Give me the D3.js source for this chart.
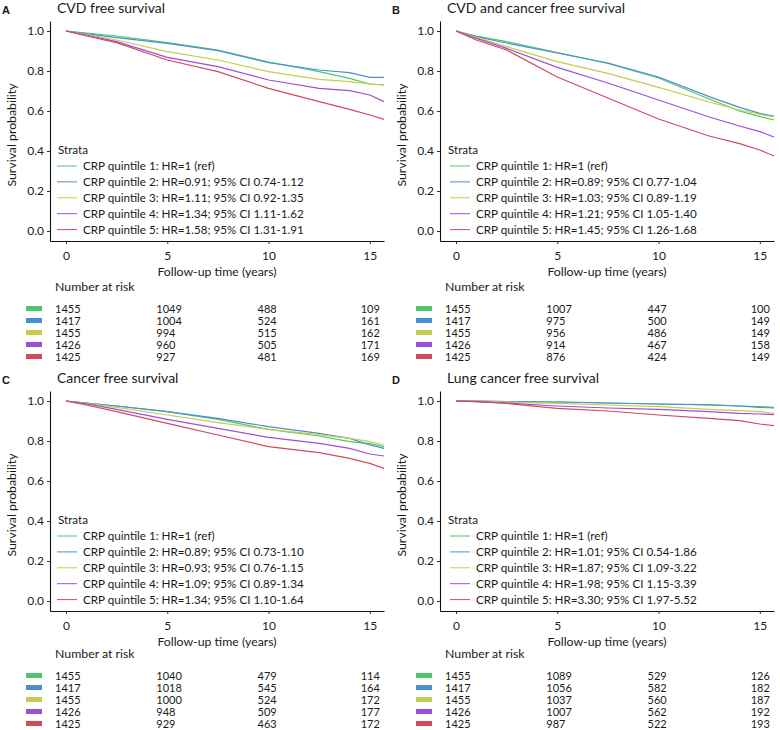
<!DOCTYPE html>
<html><head><meta charset="utf-8">
<script src="https://cdn.jsdelivr.net/npm/d3@7"></script>
<style>
body{margin:0;background:#fff}
svg{display:block}
text{font-family:Lato,"Open Sans",sans-serif;fill:#1a1a1a}
</style>
</head><body>
<svg id="chart" width="780" height="730"></svg>
<script>
// ---------- data ----------
const times = [0, 1, 2.5, 5, 7.5, 10, 12.5, 14, 15, 15.7];
const strataColors = ["#4fc66d", "#4a8fcf", "#c7cc4e", "#9c50d8", "#d04b5d"];
const panelLetters = ["A", "B", "C", "D"];
const panelTitles = ["CVD free survival", "CVD and cancer free survival", "Cancer free survival", "Lung cancer free survival"];
const yTicks = [0, 0.2, 0.4, 0.6, 0.8, 1.0];
const xTicks = [0, 5, 10, 15];
const riskTimes = [0, 5, 10, 15];

// survival probabilities per stratum (quintile 1..5) at `times`
const cvdSurv = [
  [1, 0.990, 0.975, 0.942, 0.905, 0.845, 0.797, 0.763, 0.735, 0.730],
  [1, 0.987, 0.967, 0.938, 0.902, 0.842, 0.805, 0.792, 0.768, 0.768],
  [1, 0.983, 0.955, 0.897, 0.855, 0.797, 0.758, 0.747, 0.735, 0.730],
  [1, 0.980, 0.947, 0.868, 0.822, 0.755, 0.713, 0.702, 0.680, 0.647],
  [1, 0.975, 0.942, 0.855, 0.797, 0.713, 0.647, 0.608, 0.580, 0.558]
];
const cvdCancerSurv = [
  [1, 0.975, 0.947, 0.892, 0.838, 0.765, 0.660, 0.600, 0.572, 0.555],
  [1, 0.972, 0.940, 0.890, 0.840, 0.770, 0.672, 0.618, 0.588, 0.575],
  [1, 0.968, 0.922, 0.847, 0.788, 0.718, 0.645, 0.605, 0.583, 0.570],
  [1, 0.963, 0.913, 0.818, 0.740, 0.655, 0.570, 0.525, 0.497, 0.470],
  [1, 0.955, 0.905, 0.770, 0.665, 0.560, 0.475, 0.437, 0.405, 0.375]
];
const cancerSurv = [
  [1, 0.990, 0.975, 0.947, 0.908, 0.858, 0.825, 0.797, 0.787, 0.772],
  [1, 0.990, 0.975, 0.947, 0.913, 0.872, 0.838, 0.813, 0.780, 0.763],
  [1, 0.988, 0.968, 0.930, 0.892, 0.858, 0.832, 0.813, 0.797, 0.780],
  [1, 0.986, 0.958, 0.908, 0.863, 0.818, 0.788, 0.763, 0.735, 0.725],
  [1, 0.980, 0.947, 0.888, 0.830, 0.772, 0.742, 0.713, 0.688, 0.663]
];
const lungSurv = [
  [1, 0.999, 0.997, 0.995, 0.990, 0.985, 0.982, 0.975, 0.972, 0.968],
  [1, 0.999, 0.997, 0.995, 0.990, 0.985, 0.980, 0.975, 0.968, 0.965],
  [1, 0.998, 0.995, 0.988, 0.980, 0.972, 0.958, 0.952, 0.947, 0.938],
  [1, 0.997, 0.990, 0.975, 0.965, 0.958, 0.947, 0.938, 0.935, 0.932],
  [1, 0.997, 0.988, 0.963, 0.950, 0.930, 0.913, 0.902, 0.885, 0.877]
];

const cvdLegend = ["CRP quintile 1: HR=1 (ref)", "CRP quintile 2: HR=0.91; 95% CI 0.74-1.12", "CRP quintile 3: HR=1.11; 95% CI 0.92-1.35", "CRP quintile 4: HR=1.34; 95% CI 1.11-1.62", "CRP quintile 5: HR=1.58; 95% CI 1.31-1.91"];
const cvdCancerLegend = ["CRP quintile 1: HR=1 (ref)", "CRP quintile 2: HR=0.89; 95% CI 0.77-1.04", "CRP quintile 3: HR=1.03; 95% CI 0.89-1.19", "CRP quintile 4: HR=1.21; 95% CI 1.05-1.40", "CRP quintile 5: HR=1.45; 95% CI 1.26-1.68"];
const cancerLegend = ["CRP quintile 1: HR=1 (ref)", "CRP quintile 2: HR=0.89; 95% CI 0.73-1.10", "CRP quintile 3: HR=0.93; 95% CI 0.76-1.15", "CRP quintile 4: HR=1.09; 95% CI 0.89-1.34", "CRP quintile 5: HR=1.34; 95% CI 1.10-1.64"];
const lungLegend = ["CRP quintile 1: HR=1 (ref)", "CRP quintile 2: HR=1.01; 95% CI 0.54-1.86", "CRP quintile 3: HR=1.87; 95% CI 1.09-3.22", "CRP quintile 4: HR=1.98; 95% CI 1.15-3.39", "CRP quintile 5: HR=3.30; 95% CI 1.97-5.52"];

const cvdRisk = [[1455, 1049, 488, 109], [1417, 1004, 524, 161], [1455, 994, 515, 162], [1426, 960, 505, 171], [1425, 927, 481, 169]];
const cvdCancerRisk = [[1455, 1007, 447, 100], [1417, 975, 500, 149], [1455, 956, 486, 149], [1426, 914, 467, 158], [1425, 876, 424, 149]];
const cancerRisk = [[1455, 1040, 479, 114], [1417, 1018, 545, 164], [1455, 1000, 524, 172], [1426, 948, 509, 177], [1425, 929, 463, 172]];
const lungRisk = [[1455, 1089, 529, 126], [1417, 1056, 582, 182], [1455, 1037, 560, 187], [1426, 1007, 562, 192], [1425, 987, 522, 193]];

// ---------- layout ----------
const panels = [
  {dx: 0,   dy: 0,   surv: cvdSurv,       legend: cvdLegend,       risk: cvdRisk,       legDx: 0, riskDy: 0},
  {dx: 390, dy: 0,   surv: cvdCancerSurv, legend: cvdCancerLegend, risk: cvdCancerRisk, legDx: 3, riskDy: 0},
  {dx: 0,   dy: 370, surv: cancerSurv,    legend: cancerLegend,    risk: cancerRisk,    legDx: 0, riskDy: -3},
  {dx: 390, dy: 370, surv: lungSurv,      legend: lungLegend,      risk: lungRisk,      legDx: 3, riskDy: -3}
];

const svg = d3.select("#chart");
const legSize = 11.65, riskHeadSize = 12.3, riskNumSize = 11, xTitleSize = 12.3, yTitleSize = 12.3;

const x = d3.scaleLinear().domain([-0.79, 15.7]).range([50, 384]);
const y = d3.scaleLinear().domain([-0.05, 1.05]).range([241, 21]);

panels.forEach((p, pi) => {
  const g = svg.append("g").attr("transform", `translate(${p.dx},${p.dy})`);

  g.append("text").attr("x", 2).attr("y", 14)
    .style("font-family", "Liberation Sans, Arial, sans-serif").style("font-weight", "bold").style("font-size", "11px")
    .text(panelLetters[pi]);
  g.append("text").attr("x", 57).attr("y", 13).style("font-size", "14px").text(panelTitles[pi]);

  // axes
  const ya = g.append("g").attr("transform", "translate(50,0)")
    .call(d3.axisLeft(y).tickValues(yTicks).tickFormat(d3.format(".1f")).tickSize(3).tickSizeOuter(0).tickPadding(3));
  const xa = g.append("g").attr("transform", "translate(0,241)")
    .call(d3.axisBottom(x).tickValues(xTicks).tickSize(3).tickSizeOuter(0).tickPadding(7));
  [ya, xa].forEach(a => {
    a.select(".domain").attr("stroke", "#111").attr("stroke-width", 1.1);
    a.selectAll(".tick line").attr("stroke", "#333");
    a.selectAll(".tick text").style("font-family", "Lato, sans-serif").style("font-size", "12px").attr("fill", "#1a1a1a");
  });

  g.append("text").attr("x", 217).attr("y", 275.5).attr("text-anchor", "middle")
    .style("font-size", xTitleSize + "px").text("Follow-up time (years)");
  g.append("text").attr("transform", "translate(16,135) rotate(-90)").attr("text-anchor", "middle")
    .style("font-size", yTitleSize + "px").text("Survival probability");

  // curves
  const line = d3.line().x((d, i) => x(times[i])).y(d => y(d));
  p.surv.forEach((s, si) => {
    g.append("path").datum(s).attr("d", line).attr("fill", "none")
      .attr("stroke", strataColors[si]).attr("stroke-width", 1.2).attr("stroke-linejoin", "round");
  });

  // legend
  g.append("text").attr("x", 58).attr("y", 154).style("font-size", legSize + "px").text("Strata");
  p.legend.forEach((t, i) => {
    const ly = 166 + i * 15.9;
    g.append("line").attr("x1", 57 + p.legDx).attr("x2", 77 + p.legDx).attr("y1", ly).attr("y2", ly)
      .attr("stroke", strataColors[i]).attr("stroke-width", 1);
    g.append("text").attr("x", 83 + p.legDx).attr("y", ly + 4.2).style("font-size", legSize + "px").text(t);
  });

  // risk table
  const rt = g.append("g").attr("transform", `translate(0,${p.riskDy})`);
  rt.append("text").attr("x", 55).attr("y", 291).style("font-size", riskHeadSize + "px").text("Number at risk");
  p.risk.forEach((row, i) => {
    const cy = 308.5 + i * 12;
    rt.append("rect").attr("x", 26).attr("y", cy - 2.5).attr("width", 16).attr("height", 5).attr("fill", strataColors[i]);
    row.forEach((v, j) => {
      const last = j === riskTimes.length - 1;
      rt.append("text")
        .attr("x", last ? x(riskTimes[j]) + 10 : x(riskTimes[j]) - 11)
        .attr("y", cy + 4)
        .attr("text-anchor", last ? "end" : "start")
        .style("font-size", riskNumSize + "px").text(v);
    });
  });
});
</script>
</body></html>
